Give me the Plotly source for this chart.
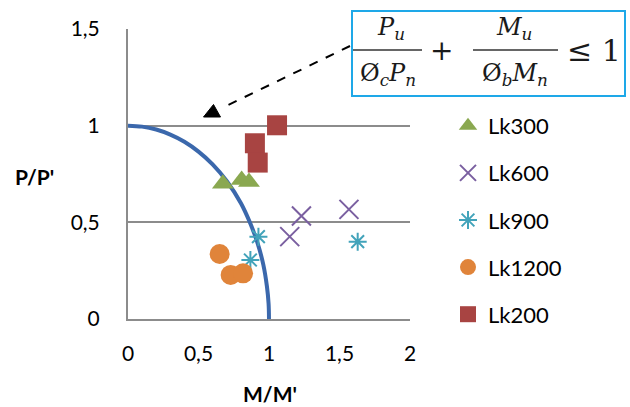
import plotly.graph_objects as go

# ---------------- data ----------------
curve_x = [0.0, 0.1, 0.2, 0.3, 0.4, 0.5, 0.6, 0.7, 0.8, 0.87, 0.92, 0.96, 0.985, 0.997, 1.0]
curve_y = [1.0, 0.995, 0.98, 0.954, 0.917, 0.866, 0.8, 0.714, 0.6, 0.49, 0.39, 0.28, 0.17, 0.08, 0.0]

lk300_x = [0.673, 0.806, 0.858]
lk300_y = [0.700, 0.719, 0.709]
lk600_x = [1.230, 1.147, 1.567]
lk600_y = [0.533, 0.426, 0.567]
lk900_x = [0.925, 0.868, 1.629]
lk900_y = [0.426, 0.305, 0.400]
lk1200_x = [0.650, 0.728, 0.816]
lk1200_y = [0.336, 0.228, 0.236]
lk200_x = [1.057, 0.900, 0.920]
lk200_y = [1.002, 0.909, 0.809]

x_ticks = [0, 0.5, 1, 1.5, 2]
x_ticktext = ["0", "0,5", "1", "1,5", "2"]
y_ticks = [0, 0.5, 1, 1.5]
y_ticktext = ["0", "0,5", "1", "1,5"]

# ---------------- layout helpers (pixel -> paper) ----------------
W, H = 630, 407
ML, MR, MT, MB = 128, 220, 29, 88
PW, PH = W - ML - MR, H - MT - MB


def px(x):
    return (x - ML) / PW


def py(y):
    return (H - MB - y) / PH


FONT = "Lato"
GRID = "#8c8c8c"

fig = go.Figure()

fig.add_trace(go.Scatter(x=curve_x, y=curve_y, mode="lines",
                         line=dict(color="#3B68AC", width=4, shape="spline"),
                         showlegend=False, hoverinfo="skip"))

series = [
    ("Lk300", lk300_x, lk300_y, dict(symbol="triangle-up", size=19, color="#8AA850")),
    ("Lk600", lk600_x, lk600_y, dict(symbol="x-thin-open", size=19, color="#7A5FA0",
                                     line=dict(color="#7A5FA0", width=2))),
    ("Lk900", lk900_x, lk900_y, dict(symbol="asterisk-open", size=15, color="#42A3BA",
                                     line=dict(color="#42A3BA", width=2))),
    ("Lk1200", lk1200_x, lk1200_y, dict(symbol="circle", size=20, color="#E0843A")),
    ("Lk200", lk200_x, lk200_y, dict(symbol="square", size=20, color="#A84442")),
]
for name, xs, ys, mk in series:
    fig.add_trace(go.Scatter(x=xs, y=ys, mode="markers", name=name, marker=mk,
                             legendgroup=name))

shapes = []
# formula box
shapes.append(dict(type="rect", xref="paper", yref="paper",
                   x0=px(352), x1=px(625), y0=py(96), y1=py(11),
                   line=dict(color="#1EA8E8", width=2), fillcolor="rgba(0,0,0,0)"))
# fraction bars
shapes.append(dict(type="line", xref="paper", yref="paper", x0=px(353), x1=px(422),
                   y0=py(50), y1=py(50), line=dict(color="#333333", width=1.5)))
shapes.append(dict(type="line", xref="paper", yref="paper", x0=px(473), x1=px(558),
                   y0=py(50), y1=py(50), line=dict(color="#333333", width=1.5)))
# dashed arrow
shapes.append(dict(type="line", xref="paper", yref="paper", x0=px(350), y0=py(46),
                   x1=px(222), y1=py(108), line=dict(color="black", width=2, dash="dash")))
shapes.append(dict(type="path", xref="paper", yref="paper",
                   path="M {} {} L {} {} L {} {} Z".format(px(203.5), py(117), px(213.5), py(104.5),
                                                        px(220.5), py(117)),
                   fillcolor="black", line=dict(color="black", width=1)))

SERIF = "DejaVu Serif"
FS = 24
anns = []


def txt(t, x, y, size=FS, family=SERIF):
    anns.append(dict(text=t, x=px(x), y=py(y), xref="paper", yref="paper", showarrow=False,
                     xanchor="center", yanchor="middle",
                     font=dict(family=family, size=size, color="#1a1a1a")))


txt("<i>P</i><sub><i>u</i></sub>", 391, 28)
txt("Ø<sub><i>c</i></sub><i>P</i><sub><i>n</i></sub>", 388, 74)
txt("+", 441.5, 50, size=28)
txt("<i>M</i><sub><i>u</i></sub>", 514, 28)
txt("Ø<sub><i>b</i></sub><i>M</i><sub><i>n</i></sub>", 515, 74)
txt("≤ 1", 594, 50, size=30)

# axis titles
anns.append(dict(text="<b>P/P'</b>", x=px(34), y=py(176), xref="paper", yref="paper",
                 showarrow=False, xanchor="center", yanchor="middle",
                 font=dict(family=FONT, size=21, color="black")))
anns.append(dict(text="<b>M/M'</b>", x=px(270), y=py(393), xref="paper", yref="paper",
                 showarrow=False, xanchor="center", yanchor="middle",
                 font=dict(family=FONT, size=21, color="black")))

fig.update_layout(
    width=W, height=H,
    margin=dict(l=ML, r=MR, t=MT, b=MB, pad=0),
    paper_bgcolor="white", plot_bgcolor="white",
    font=dict(family=FONT, size=21, color="black"),
    shapes=shapes, annotations=anns,
    legend=dict(x=px(448), y=py(105), xanchor="left", yanchor="top",
                font=dict(family=FONT, size=22, color="black"),
                tracegroupgap=15.5, bgcolor="rgba(0,0,0,0)", itemwidth=30),
    xaxis=dict(range=[0, 2], tickvals=x_ticks, ticktext=x_ticktext, showgrid=False,
               zeroline=False, showline=True, linecolor=GRID, linewidth=2,
               ticks="", ticklabelstandoff=15, fixedrange=True),
    yaxis=dict(range=[0, 1.5], tickvals=y_ticks, ticktext=y_ticktext, showgrid=True,
               gridcolor=GRID, gridwidth=2, zeroline=False, showline=True,
               linecolor=GRID, linewidth=2, ticks="", ticklabelstandoff=22,
               fixedrange=True),
)

fig.write_html("out.html", config={"displayModeBar": False},
               post_script="document.body.style.margin='0px';")
